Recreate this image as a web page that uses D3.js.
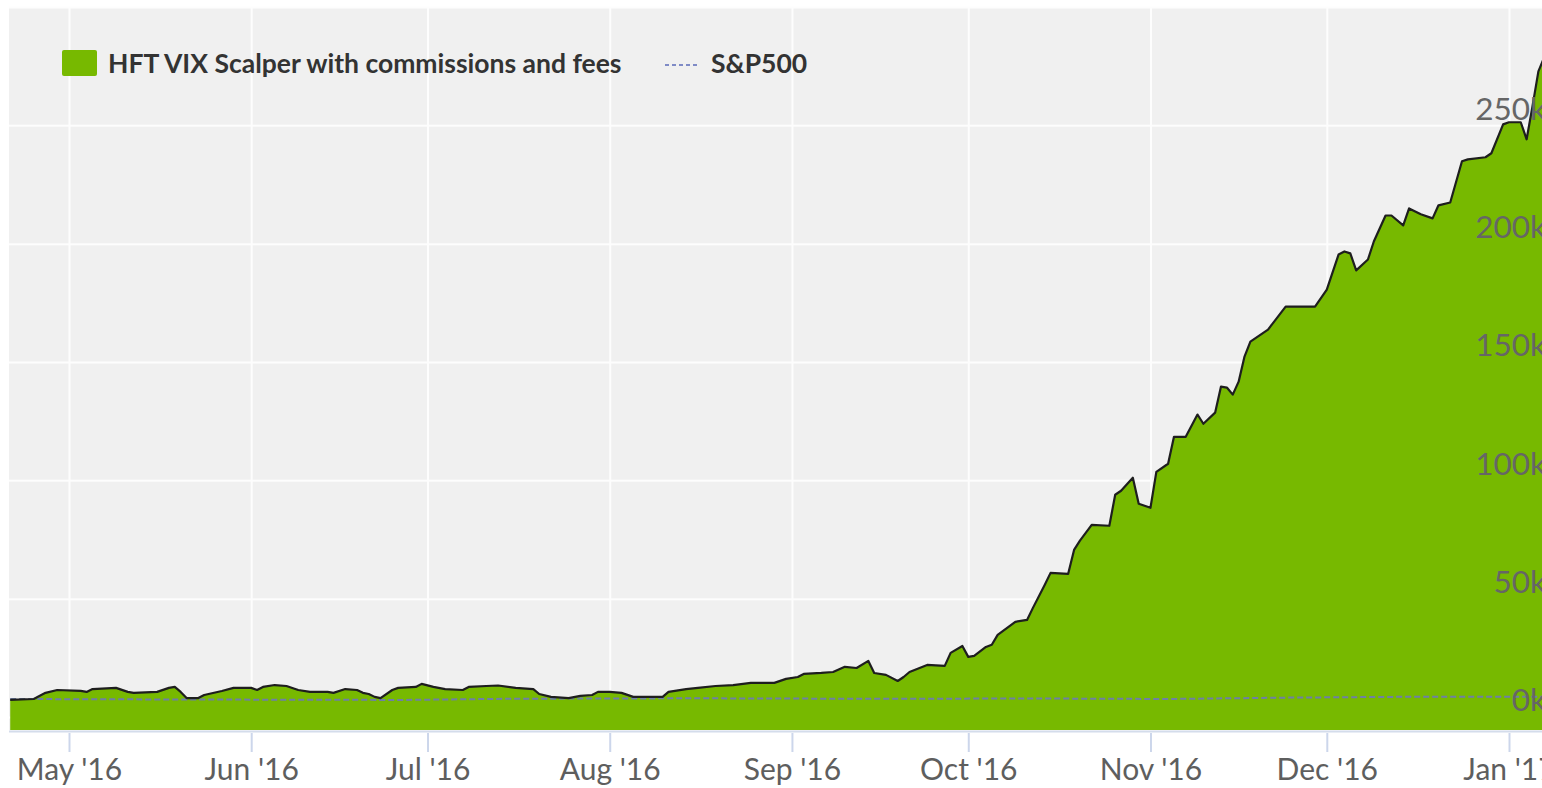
<!DOCTYPE html>
<html><head><meta charset="utf-8">
<script src="https://cdn.jsdelivr.net/npm/d3@7"></script>
<style>html,body{margin:0;padding:0;background:#fff;overflow:hidden}</style>
</head><body><svg id="c" width="1542" height="788"></svg>
<script>
// ---- DATA (values in thousands of USD) ----
const strategyDates = ["2016-04-21","2016-04-25","2016-04-27","2016-04-29","2016-05-03","2016-05-04","2016-05-05","2016-05-09","2016-05-11","2016-05-12","2016-05-16","2016-05-18","2016-05-19","2016-05-20","2016-05-21","2016-05-23","2016-05-24","2016-05-27","2016-05-29","2016-06-01","2016-06-02","2016-06-03","2016-06-05","2016-06-07","2016-06-09","2016-06-11","2016-06-14","2016-06-15","2016-06-17","2016-06-19","2016-06-20","2016-06-21","2016-06-22","2016-06-23","2016-06-25","2016-06-26","2016-06-29","2016-06-30","2016-07-02","2016-07-04","2016-07-07","2016-07-08","2016-07-11","2016-07-13","2016-07-16","2016-07-19","2016-07-20","2016-07-22","2016-07-25","2016-07-27","2016-07-29","2016-07-30","2016-08-01","2016-08-03","2016-08-05","2016-08-07","2016-08-10","2016-08-11","2016-08-14","2016-08-16","2016-08-19","2016-08-22","2016-08-25","2016-08-29","2016-08-31","2016-09-02","2016-09-03","2016-09-06","2016-09-08","2016-09-10","2016-09-12","2016-09-14","2016-09-15","2016-09-17","2016-09-19","2016-09-20","2016-09-21","2016-09-24","2016-09-27","2016-09-28","2016-09-30","2016-10-01","2016-10-02","2016-10-04","2016-10-05","2016-10-06","2016-10-09","2016-10-11","2016-10-12","2016-10-14","2016-10-15","2016-10-18","2016-10-19","2016-10-20","2016-10-22","2016-10-25","2016-10-26","2016-10-27","2016-10-29","2016-10-30","2016-11-01","2016-11-02","2016-11-04","2016-11-05","2016-11-07","2016-11-09","2016-11-10","2016-11-12","2016-11-13","2016-11-14","2016-11-15","2016-11-16","2016-11-17","2016-11-18","2016-11-21","2016-11-24","2016-11-29","2016-12-01","2016-12-03","2016-12-04","2016-12-05","2016-12-06","2016-12-08","2016-12-09","2016-12-11","2016-12-12","2016-12-14","2016-12-15","2016-12-17","2016-12-19","2016-12-20","2016-12-22","2016-12-24","2016-12-25","2016-12-28","2016-12-29","2016-12-31","2017-01-01","2017-01-03","2017-01-04","2017-01-05","2017-01-06","2017-01-07"];
const strategyValues = [7.2,7.6,10.2,11.4,11.0,10.6,11.8,12.3,10.6,10.2,10.6,12.3,12.7,10.6,8.0,8.0,9.3,11.0,12.3,12.3,11.4,12.7,13.5,13.1,11.4,10.6,10.6,10.2,11.8,11.4,10.2,9.7,8.5,8.0,11.4,12.3,12.7,14.0,12.7,11.8,11.4,12.7,13.1,13.3,12.3,11.8,9.7,8.5,8.0,8.9,9.3,10.6,10.6,10.2,8.5,8.5,8.5,10.6,11.8,12.3,13.1,13.5,14.4,14.4,16.1,16.9,18.2,18.6,19.0,21.2,20.7,23.7,18.6,17.8,15.2,16.9,19.0,22.0,21.6,27.1,30.0,25.4,25.8,29.6,30.5,34.7,40.2,41.0,46.1,55.8,60.9,60.5,70.6,74.5,81.2,80.8,93.9,95.6,101.1,90.1,88.4,103.6,107.0,118.4,118.4,127.8,123.9,128.6,139.6,139.2,136.2,141.7,152.3,158.6,163.7,173.4,173.4,180.6,195.4,196.7,195.9,188.7,193.3,200.9,211.9,211.9,207.7,214.9,212.4,210.7,216.2,217.4,234.8,235.6,236.5,238.2,250.4,251.3,251.3,244.1,258.1,272.8,278.8];
const spDates = ["2016-04-21","2016-05-19","2016-06-27","2016-07-15","2016-08-15","2016-09-12","2016-10-14","2016-11-04","2016-11-25","2016-12-13","2017-01-07"];
const spValues = [7.6,7.4,7.2,7.7,7.9,7.7,7.8,7.6,8.2,8.5,8.6];
const monthTicks = ["2016-05-01","2016-06-01","2016-07-01","2016-08-01","2016-09-01","2016-10-01","2016-11-01","2016-12-01","2017-01-01"];
const monthLabels = ["May '16","Jun '16","Jul '16","Aug '16","Sep '16","Oct '16","Nov '16","Dec '16","Jan '17"];
const yTicks = [0,50,100,150,200,250,300];
const yTickLabels = ["0k","50k","100k","150k","200k","250k","300k"];
const legendLabels = ["HFT VIX Scalper with commissions and fees","S&P500"];

// ---- CHART ----
const parse = d3.utcParse("%Y-%m-%d");
const W = 1542, H = 788;
const plot = {left: 9, top: 7, right: 1570, bottom: 730};
const svg = d3.select("#c");
svg.append("rect").attr("width", W).attr("height", H).attr("fill", "#fff");

const x = d3.scaleUtc().domain([parse("2016-05-01"), parse("2017-01-01")]).range([69, 1509]);
const y = d3.scaleLinear().domain([-5.5, 300]).range([plot.bottom, plot.top]);

svg.append("defs").append("clipPath").attr("id", "pc")
  .append("rect").attr("x", plot.left).attr("y", plot.top)
  .attr("width", plot.right - plot.left).attr("height", plot.bottom - plot.top);

svg.append("rect").attr("x", plot.left).attr("y", plot.top)
  .attr("width", plot.right - plot.left).attr("height", plot.bottom - plot.top)
  .attr("fill", "#f0f0f0");

const tickDates = monthTicks.map(parse);
// vertical grid
const vg = svg.append("g").attr("transform", `translate(0,${plot.bottom})`)
  .call(d3.axisBottom(x).tickValues(tickDates).tickSize(-(plot.bottom - plot.top)).tickFormat(""));
vg.select(".domain").remove();
vg.selectAll("line").attr("stroke", "#fdfdfd").attr("stroke-width", 2);
// horizontal grid
const hg = svg.append("g").attr("transform", `translate(${plot.left},0)`)
  .call(d3.axisLeft(y).tickValues(yTicks).tickSize(-(plot.right - plot.left)).tickFormat(""));
hg.select(".domain").remove();
hg.selectAll("line").attr("stroke", "#fdfdfd").attr("stroke-width", 2);

const strat = strategyDates.map((d, i) => ({date: parse(d), v: strategyValues[i]}));
const sp = spDates.map((d, i) => ({date: parse(d), v: spValues[i]}));

const g = svg.append("g").attr("clip-path", "url(#pc)");
g.append("path").datum(strat)
  .attr("d", d3.area().x(d => x(d.date)).y0(y(y.domain()[0])).y1(d => y(d.v)))
  .attr("fill", "#77b900");
g.append("path").datum(sp)
  .attr("d", d3.line().x(d => x(d.date)).y(d => y(d.v)))
  .attr("fill", "none").attr("stroke", "#6f7fa6").attr("stroke-width", 2).attr("stroke-dasharray", "6,3");
g.append("path").datum(strat)
  .attr("d", d3.line().x(d => x(d.date)).y(d => y(d.v)))
  .attr("fill", "none").attr("stroke", "#1e1e1e").attr("stroke-width", 2.2).attr("stroke-linejoin", "round");

// x axis
const xa = svg.append("g").attr("transform", `translate(0,${plot.bottom})`)
  .call(d3.axisBottom(x).tickValues(tickDates).tickSize(22).tickFormat((d, i) => monthLabels[i]));
xa.select(".domain").remove();
xa.append("line").attr("x1", plot.left).attr("x2", W).attr("y1", 1.5).attr("y2", 1.5)
  .attr("stroke", "#d4dceb").attr("stroke-width", 2);
xa.selectAll(".tick line").attr("stroke", "#ccd6eb").attr("stroke-width", 2).attr("y1", 3);
xa.selectAll(".tick text").attr("y", 50).attr("dy", 0)
  .attr("font-family", "Lato, sans-serif").attr("font-size", 30).attr("fill", "#5e5e5e");

// y axis labels (right, inside)
const ya = svg.append("g").attr("transform", `translate(1546,0)`)
  .call(d3.axisLeft(y).tickValues(yTicks.slice(0, 6)).tickSize(0).tickFormat((d, i) => yTickLabels[i]));
ya.select(".domain").remove();
ya.selectAll(".tick text").attr("x", 0).attr("dy", 0).attr("y", -6)
  .attr("text-anchor", "end").attr("font-family", "Lato, sans-serif").attr("font-size", 31.5).attr("fill", "#666");

// legend
const lg = svg.append("g");
lg.append("rect").attr("x", 62).attr("y", 50).attr("width", 35).attr("height", 26).attr("rx", 2).attr("fill", "#77b900");
lg.append("text").attr("x", 108).attr("y", 73).text(legendLabels[0])
  .attr("font-family", "Lato, sans-serif").attr("font-weight", "bold").attr("font-size", 26.5).attr("fill", "#333");
lg.append("line").attr("x1", 665).attr("x2", 697).attr("y1", 65).attr("y2", 65)
  .attr("stroke", "#7f8bc6").attr("stroke-width", 2).attr("stroke-dasharray", "4,3");
lg.append("text").attr("x", 711).attr("y", 73).text(legendLabels[1])
  .attr("font-family", "Lato, sans-serif").attr("font-weight", "bold").attr("font-size", 26.5).attr("fill", "#333");
</script></body></html>
